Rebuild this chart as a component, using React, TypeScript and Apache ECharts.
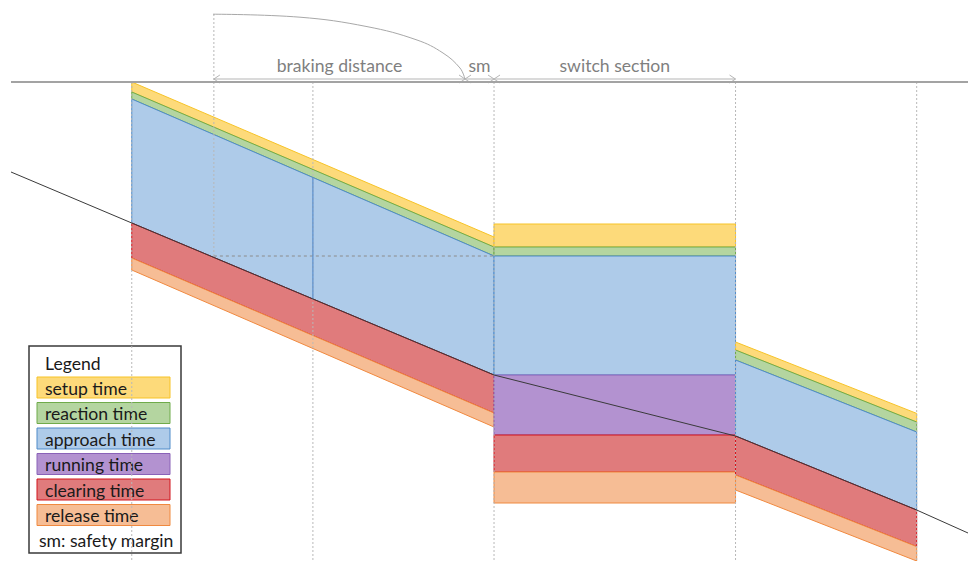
import React, { useEffect, useRef } from "react";
import * as echarts from "echarts";

// ---- phases (legend order, top to bottom in each block) ----
const phaseNames = ["setup time", "reaction time", "approach time", "running time", "clearing time", "release time"];
const phaseFill = ["#FDDA7A", "#B4D5A0", "#AECBE9", "#B392D0", "#E07B7C", "#F6BD95"];
const phaseStroke = ["#F7C327", "#6FAB4A", "#4F8BC9", "#8A62B8", "#D2141C", "#F0893F"];

// ---- blocks: distance [m] ----
const blockFrom = [200, 800, 1200];
const blockTo = [800, 1200, 1500];
// band boundary times [s] (top of setup ... bottom of release) at block entry / exit
const block1Entry = [0, 5, 8.5, 70.5, 70.5, 88, 94];
const block1Exit = [77.5, 82.5, 87, 146.5, 146.5, 165.5, 172.5];
const block2Entry = [71, 82.5, 87, 146.5, 176.5, 195, 210.5];
const block2Exit = [71, 82.5, 87, 146.5, 176.5, 195, 210.5];
const block3Entry = [130, 134, 139, 177, 177, 196.5, 204];
const block3Exit = [165.7, 170, 175, 214, 214, 232.3, 239.5];
const blockEntry = [block1Entry, block2Entry, block3Entry];
const blockExit = [block1Exit, block2Exit, block3Exit];

// ---- train path (distance, time) ----
const trainDist = [0, 200, 800, 1200, 1500, 1585];
const trainTime = [45, 70.5, 146.5, 177, 214, 225.5];

// ---- braking curve ----
const curveDist = [334.6, 478.6, 589.6, 672.4, 715.5, 743.6, 751.9];
const curveTime = [-33.9, -32.4, -27.7, -21, -14.5, -7, -1.5];

// ---- dimension annotations ----
const dimLabels = ["braking distance", "sm", "switch section"];
const dimFrom = [336, 752, 800];
const dimTo = [752, 800, 1200];
const dimTime = -1.5;

// ---- guide lines: [x0, t0, x1, t1, style] ----
const guideX0 = [200, 336, 500, 800, 1200, 1500, 336, 500];
const guideT0 = [0, -34, 0, 0, 0, 0, 87, 47.5];
const guideX1 = [200, 336, 500, 800, 1200, 1500, 800, 500];
const guideT1 = [239.5, 87, 239.5, 239.5, 239.5, 239.5, 87, 108.5];
const guideStyle = [0, 0, 0, 0, 0, 0, 1, 2];

const X_MAX = 1585;
const T_MIN = -41;
const T_MAX = 239.5;
const FONT = "Lato, 'Open Sans', sans-serif";
const FS = "17.6px";

export default function App() {
  const ref = useRef<HTMLDivElement>(null);

  useEffect(() => {
    if (!ref.current) return;
    const chart = echarts.init(ref.current, undefined, { renderer: "svg" });

    const bandItems: number[][] = [];
    blockFrom.forEach((from, b) => {
      const en = blockEntry[b];
      const ex = blockExit[b];
      for (let p = 0; p < phaseNames.length; p++) {
        if (en[p + 1] - en[p] > 0 || ex[p + 1] - ex[p] > 0) {
          bandItems.push([from, blockTo[b], en[p], ex[p], en[p + 1], ex[p + 1], p]);
        }
      }
    });

    const guideItems = guideX0.map((x0, i) => [x0, guideT0[i], guideX1[i], guideT1[i], guideStyle[i]]);
    const dimItems = dimFrom.map((x0, i) => [x0, dimTo[i], dimTime, i]);

    const guideStyles = [
      { stroke: "#b8b8b8", lineWidth: 1, lineDash: [2, 2] },
      { stroke: "#8c8c8c", lineWidth: 1, lineDash: [3, 3] },
      { stroke: "#5B8FCC", lineWidth: 1.2 },
    ];

    const textBase = {
      fill: "#1a1a1a", font: `${FS} ${FONT}`,
      align: "left", verticalAlign: "middle", textAlign: "left", textVerticalAlign: "middle",
    };

    const legendChildren: any[] = [
      {
        type: "rect",
        shape: { x: 29, y: 346, width: 152, height: 207 },
        style: { fill: "#ffffff", stroke: "#3a3a3a", lineWidth: 1.5 },
      },
      { type: "text", style: { ...textBase, text: "Legend", x: 45, y: 363 } },
    ];
    phaseNames.forEach((name, i) => {
      const top = 377 + i * 25.5;
      legendChildren.push({
        type: "rect",
        shape: { x: 37, y: top, width: 133, height: 21 },
        style: { fill: phaseFill[i], stroke: phaseStroke[i], lineWidth: 1 },
      });
      legendChildren.push({ type: "text", style: { ...textBase, text: name, x: 45, y: top + 11 } });
    });
    legendChildren.push({ type: "text", style: { ...textBase, text: "sm: safety margin", x: 39, y: 540 } });

    chart.setOption({
      animation: false,
      grid: { left: 11, right: 0, top: 0, bottom: 0 },
      xAxis: { type: "value", min: 0, max: X_MAX, show: false },
      yAxis: { type: "value", inverse: true, min: T_MIN, max: T_MAX, show: false },
      series: [
        {
          type: "custom",
          name: "blocks",
          silent: true,
          z: 2,
          data: bandItems,
          renderItem: (_params: any, api: any) => {
            const x0 = api.value(0), x1 = api.value(1);
            const p = api.value(6);
            const pts = [
              api.coord([x0, api.value(2)]),
              api.coord([x1, api.value(3)]),
              api.coord([x1, api.value(5)]),
              api.coord([x0, api.value(4)]),
            ];
            return {
              type: "polygon",
              shape: { points: pts },
              style: { fill: phaseFill[p], stroke: phaseStroke[p], lineWidth: 1 },
            };
          },
        },
        {
          type: "custom",
          name: "guides",
          silent: true,
          z: 3,
          data: guideItems,
          renderItem: (_params: any, api: any) => {
            const a = api.coord([api.value(0), api.value(1)]);
            const b = api.coord([api.value(2), api.value(3)]);
            const s = guideStyles[api.value(4)];
            return {
              type: "line",
              shape: { x1: a[0], y1: a[1], x2: b[0], y2: b[1] },
              style: { ...s, fill: null },
            };
          },
        },
        {
          type: "line",
          name: "top line",
          silent: true,
          z: 4,
          symbol: "none",
          data: [[0, 0], [X_MAX, 0]],
          lineStyle: { color: "#a3a3a3", width: 2 },
        },
        {
          type: "line",
          name: "train path",
          silent: true,
          z: 5,
          symbol: "none",
          data: trainDist.map((d, i) => [d, trainTime[i]]),
          lineStyle: { color: "#3a3a3a", width: 1 },
        },
        {
          type: "line",
          name: "braking curve",
          silent: true,
          z: 4,
          symbol: "none",
          smooth: 0.4,
          data: curveDist.map((d, i) => [d, curveTime[i]]),
          lineStyle: { color: "#a8a8a8", width: 1 },
        },
        {
          type: "custom",
          name: "dimensions",
          silent: true,
          z: 4,
          data: dimItems,
          renderItem: (_params: any, api: any) => {
            const a = api.coord([api.value(0), api.value(2)]);
            const b = api.coord([api.value(1), api.value(2)]);
            const lab = dimLabels[api.value(3)];
            const st = { stroke: "#b5b5b5", lineWidth: 1, fill: null };
            return {
              type: "group",
              children: [
                { type: "line", shape: { x1: a[0], y1: a[1], x2: b[0], y2: b[1] }, style: st },
                { type: "polyline", shape: { points: [[a[0] + 6, a[1] - 4], [a[0], a[1]], [a[0] + 6, a[1] + 4]] }, style: st },
                { type: "polyline", shape: { points: [[b[0] - 6, b[1] - 4], [b[0], b[1]], [b[0] - 6, b[1] + 4]] }, style: st },
                {
                  type: "text",
                  style: {
                    text: lab, x: (a[0] + b[0]) / 2, y: a[1] - 14,
                    fill: "#7f7f7f", font: `${FS} ${FONT}`,
                    align: "center", verticalAlign: "middle", textAlign: "center", textVerticalAlign: "middle",
                  },
                },
              ],
            };
          },
        },
      ],
      graphic: [{ type: "group", z: 100, children: legendChildren }],
    });

    return () => chart.dispose();
  }, []);

  return (
    <div
      ref={ref}
      style={{ position: "fixed", left: 0, top: 0, width: 968, height: 561, background: "#ffffff" }}
    />
  );
}
